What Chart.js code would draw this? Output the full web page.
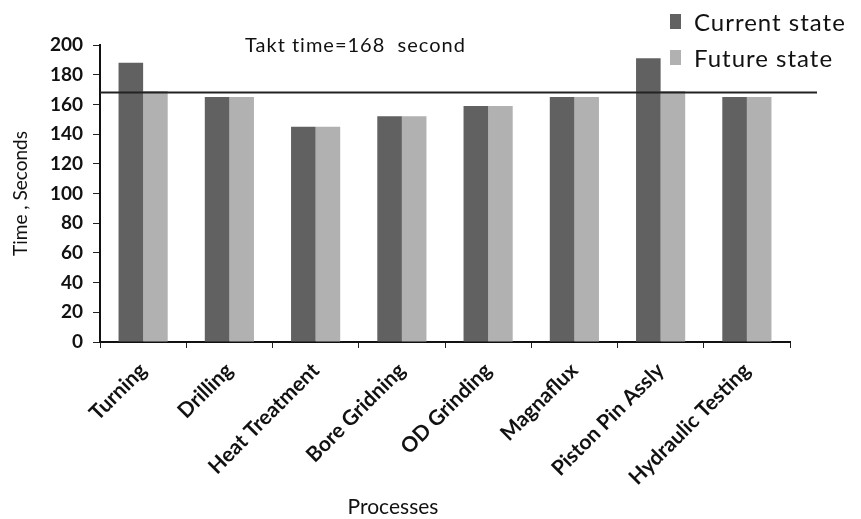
<!DOCTYPE html>
<html>
<head>
<meta charset="utf-8">
<script src="https://cdn.jsdelivr.net/npm/chart.js@4/dist/chart.umd.min.js"></script>
<style>
  html, body { margin: 0; padding: 0; background: #fff; }
  #wrap { width: 861px; height: 519px; position: relative; }
</style>
</head>
<body>
<div id="wrap"><canvas id="chart"></canvas></div>
<script>
const processes = ['Turning', 'Drilling', 'Heat Treatment', 'Bore Gridning', 'OD Grinding', 'Magnaflux', 'Piston Pin Assly', 'Hydraulic Testing'];
const currentState = [188, 165, 145, 152, 159, 165, 191, 165];
const futureState = [169, 165, 145, 152, 159, 165, 169, 165];
const taktTime = 168;
const yTicks = [0, 20, 40, 60, 80, 100, 120, 140, 160, 180, 200];

const darkGrey = '#616161';
const lightGrey = '#b1b1b1';
const fontFamily = 'Lato, "Open Sans", sans-serif';

// takt line, its label, the legend and the x axis title
const extras = {
    id: 'extras',
    afterDatasetsDraw(chart) {
        const { ctx, chartArea, scales } = chart;
        const y = scales.y.getPixelForValue(taktTime);
        ctx.save();
        ctx.strokeStyle = '#222';
        ctx.lineWidth = 2;
        ctx.beginPath();
        ctx.moveTo(chartArea.left, y);
        ctx.lineTo(chartArea.right + 27, y);
        ctx.stroke();

        ctx.fillStyle = '#111';
        ctx.textBaseline = 'middle';
        ctx.letterSpacing = '1px';
        ctx.font = '20px ' + fontFamily;
        ctx.fillText('Takt time=' + taktTime + '  second', 245, 46);

        // legend
        const items = [['Current state', darkGrey, 22], ['Future state', lightGrey, 58]];
        items.forEach(([label, color, ly]) => {
            ctx.fillStyle = color;
            ctx.fillRect(670, ly - 8, 11, 15);
            ctx.fillStyle = '#111';
            ctx.font = '24px ' + fontFamily;
            ctx.fillText(label, 694, ly + 1);
        });

        ctx.font = '21px ' + fontFamily;
        ctx.letterSpacing = '0px';
        ctx.textAlign = 'center';
        ctx.fillText('Processes', 393, 507);
        ctx.restore();
    }
};

new Chart(document.getElementById('chart'), {
    type: 'bar',
    data: {
        labels: processes,
        datasets: [
            { label: 'Current state', data: currentState, backgroundColor: darkGrey },
            { label: 'Future state', data: futureState, backgroundColor: lightGrey }
        ]
    },
    options: {
        responsive: true,
        maintainAspectRatio: false,
        animation: false,
        layout: { padding: { top: 45, right: 71, left: 0, bottom: 0 } },
        datasets: {
            bar: { categoryPercentage: 0.57, barPercentage: 1.0 }
        },
        scales: {
            x: {
                grid: { drawOnChartArea: false, drawTicks: true, tickLength: 6, color: '#222', lineWidth: 1 },
                border: { color: '#111', width: 2 },
                ticks: {
                    color: '#111',
                    font: { family: fontFamily, size: 21, weight: 'bold' },
                    minRotation: 45,
                    maxRotation: 45,
                    autoSkip: false,
                    padding: 10
                },
                afterFit(axis) { axis.height = 177; }
            },
            y: {
                min: 0,
                max: 200,
                afterBuildTicks(axis) { axis.ticks = yTicks.map(v => ({ value: v })); },
                grid: { drawOnChartArea: false, drawTicks: true, tickLength: 7, color: '#222', lineWidth: 1 },
                border: { color: '#111', width: 2 },
                ticks: {
                    color: '#111',
                    font: { family: fontFamily, size: 19, weight: 'bold' },
                    padding: 10
                },
                title: {
                    display: true,
                    text: 'Time , Seconds',
                    color: '#111',
                    font: { family: fontFamily, size: 19 },
                    padding: { top: 9, bottom: 0 }
                },
                afterFit(axis) { axis.width = 100; }
            }
        },
        plugins: {
            legend: { display: false },
            tooltip: { enabled: false }
        }
    },
    plugins: [extras]
});
</script>
</body>
</html>
